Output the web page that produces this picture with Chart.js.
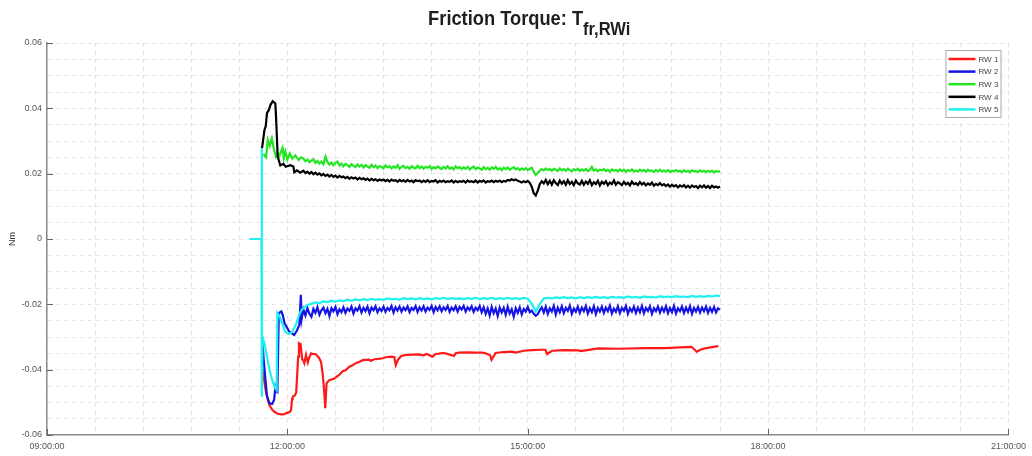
<!DOCTYPE html>
<html>
<head>
<meta charset="utf-8">
<script src="https://cdn.jsdelivr.net/npm/chart.js@4.4.0/dist/chart.umd.min.js"></script>
<style>
  html, body { margin: 0; padding: 0; background: #fff; }
  #wrap { position: relative; width: 1032px; height: 456px; }
  #title { position: absolute; left: 47px; width: 964px; top: 6px; text-align: center; z-index: 2;
           font-family: 'Liberation Sans', Arial, sans-serif; font-weight: bold; font-size: 21px; color: #1e1e1e; }
  #title .t { display: inline-block; transform: scaleX(0.87); }
  #title sub { font-size: 19px; vertical-align: -10px; line-height: 0; }
  canvas { position: absolute; left: 0; top: 0; }
</style>
</head>
<body>
<div id="wrap">
  <div id="title"><span class="t">Friction Torque: T<sub>fr,RWi</sub></span></div>
  <canvas id="frictionChart" width="1032" height="456"></canvas>
</div>
<script>
// axis ticks
const xMajorTicks = [9, 12, 15, 18, 21];
const xTickLabels = ['09:00:00', '12:00:00', '15:00:00', '18:00:00', '21:00:00'];
const xMinorStep = 0.6;
const yMajorTicks = [-0.06, -0.04, -0.02, 0, 0.02, 0.04, 0.06];
const yTickLabels = ['-0.06', '-0.04', '-0.02', '0', '0.02', '0.04', '0.06'];
const yMinorStep = 0.005;

const seriesNames = ['RW 1', 'RW 2', 'RW 3', 'RW 4', 'RW 5'];
const seriesColors = ['#ff1a1a', '#1414e6', '#22e622', '#000000', '#1ff0f0'];

// time in hours of day
// start-up transient, own sampling per wheel
const rw2StartTimes = [11.685, 11.715, 11.745, 11.776, 11.810, 11.835, 11.850, 11.860, 11.875, 11.893,
  11.925, 11.945, 11.965, 12.025, 12.085, 12.120, 12.150, 12.168, 12.178, 12.190];
const rw2StartVals = [-0.0310, -0.0400, -0.0480, -0.0503, -0.0505, -0.0492, -0.0455, -0.0465, -0.0468, -0.0227,
  -0.0222, -0.0235, -0.0258, -0.0284, -0.0294, -0.0280, -0.0262, -0.0171, -0.0245, -0.0228];

const rw3StartTimes = [11.700, 11.735, 11.755, 11.780, 11.806, 11.830, 11.857, 11.880, 11.900, 11.925,
  11.940, 11.955, 11.975, 12.000, 12.030, 12.060, 12.100, 12.140, 12.170];
const rw3StartVals = [0.0260, 0.0250, 0.0303, 0.0285, 0.0308, 0.0278, 0.0252, 0.0262, 0.0254, 0.0270,
  0.0279, 0.0248, 0.0268, 0.0243, 0.0262, 0.0246, 0.0256, 0.0242, 0.0250];

const rw4StartTimes = [11.684, 11.714, 11.730, 11.746, 11.770, 11.788, 11.817, 11.835, 11.850, 11.862,
  11.879, 11.912, 11.950, 11.980, 12.035, 12.075, 12.087, 12.120, 12.160];
const rw4StartVals = [0.0278, 0.0334, 0.0345, 0.0386, 0.0395, 0.0410, 0.0422, 0.0418, 0.0415, 0.0355,
  0.0252, 0.0225, 0.0230, 0.0221, 0.0226, 0.0222, 0.0204, 0.0210, 0.0203];

const rw5StartTimes = [11.527, 11.676, 11.679, 11.683, 11.690, 11.714, 11.760, 11.797, 11.840, 11.866,
  11.876, 11.905, 11.940, 11.975, 12.020, 12.060, 12.110, 12.150, 12.180];
const rw5StartVals = [0, 0, 0.0278, -0.0483, -0.0300, -0.0320, -0.0380, -0.0421, -0.0452, -0.0462,
  -0.0227, -0.0238, -0.0262, -0.0285, -0.0291, -0.0285, -0.0260, -0.0230, -0.0216];

// steady part of the noisy wheels, sampled every 1.5 min
const fineTimes = [
  12.200, 12.225, 12.250, 12.275, 12.300, 12.325, 12.350, 12.375, 12.400, 12.425,
  12.450, 12.475, 12.500, 12.525, 12.550, 12.575, 12.600, 12.625, 12.650, 12.675,
  12.700, 12.725, 12.750, 12.775, 12.800, 12.825, 12.850, 12.875, 12.900, 12.925,
  12.950, 12.975, 13.000, 13.025, 13.050, 13.075, 13.100, 13.125, 13.150, 13.175,
  13.200, 13.225, 13.250, 13.275, 13.300, 13.325, 13.350, 13.375, 13.400, 13.425,
  13.450, 13.475, 13.500, 13.525, 13.550, 13.575, 13.600, 13.625, 13.650, 13.675,
  13.700, 13.725, 13.750, 13.775, 13.800, 13.825, 13.850, 13.875, 13.900, 13.925,
  13.950, 13.975, 14.000, 14.025, 14.050, 14.075, 14.100, 14.125, 14.150, 14.175,
  14.200, 14.225, 14.250, 14.275, 14.300, 14.325, 14.350, 14.375, 14.400, 14.425,
  14.450, 14.475, 14.500, 14.525, 14.550, 14.575, 14.600, 14.625, 14.650, 14.675,
  14.700, 14.725, 14.750, 14.775, 14.800, 14.825, 14.850, 14.875, 14.900, 14.925,
  14.950, 14.975, 15.000, 15.025, 15.050, 15.075, 15.100, 15.125, 15.150, 15.175,
  15.200, 15.225, 15.250, 15.275, 15.300, 15.325, 15.350, 15.375, 15.400, 15.425,
  15.450, 15.475, 15.500, 15.525, 15.550, 15.575, 15.600, 15.625, 15.650, 15.675,
  15.700, 15.725, 15.750, 15.775, 15.800, 15.825, 15.850, 15.875, 15.900, 15.925,
  15.950, 15.975, 16.000, 16.025, 16.050, 16.075, 16.100, 16.125, 16.150, 16.175,
  16.200, 16.225, 16.250, 16.275, 16.300, 16.325, 16.350, 16.375, 16.400, 16.425,
  16.450, 16.475, 16.500, 16.525, 16.550, 16.575, 16.600, 16.625, 16.650, 16.675,
  16.700, 16.725, 16.750, 16.775, 16.800, 16.825, 16.850, 16.875, 16.900, 16.925,
  16.950, 16.975, 17.000, 17.025, 17.050, 17.075, 17.100, 17.125, 17.150, 17.175,
  17.200, 17.225, 17.250, 17.275, 17.300, 17.325, 17.350, 17.375, 17.400];

const rw2Steady = [
  -0.0216, -0.0234, -0.0211, -0.0229, -0.0238, -0.0214, -0.0226, -0.0209, -0.0232, -0.0218,
  -0.0210, -0.0227, -0.0214, -0.0236, -0.0212, -0.0221, -0.0208, -0.0230, -0.0215, -0.0224,
  -0.0209, -0.0226, -0.0213, -0.0220, -0.0207, -0.0228, -0.0212, -0.0219, -0.0206, -0.0225,
  -0.0211, -0.0221, -0.0207, -0.0227, -0.0210, -0.0218, -0.0206, -0.0224, -0.0212, -0.0220,
  -0.0207, -0.0223, -0.0211, -0.0218, -0.0205, -0.0225, -0.0209, -0.0219, -0.0207, -0.0222,
  -0.0210, -0.0218, -0.0206, -0.0224, -0.0211, -0.0217, -0.0205, -0.0223, -0.0209, -0.0219,
  -0.0206, -0.0222, -0.0210, -0.0217, -0.0205, -0.0224, -0.0208, -0.0218, -0.0206, -0.0221,
  -0.0209, -0.0217, -0.0205, -0.0223, -0.0210, -0.0218, -0.0206, -0.0222, -0.0208, -0.0216,
  -0.0205, -0.0222, -0.0209, -0.0217, -0.0206, -0.0223, -0.0210, -0.0218, -0.0205, -0.0224,
  -0.0209, -0.0229, -0.0212, -0.0234, -0.0208, -0.0227, -0.0213, -0.0236, -0.0210, -0.0225,
  -0.0211, -0.0232, -0.0207, -0.0228, -0.0215, -0.0238, -0.0212, -0.0226, -0.0209, -0.0231,
  -0.0214, -0.0222, -0.0208, -0.0224, -0.0219, -0.0229, -0.0235, -0.0230, -0.0218, -0.0209,
  -0.0225, -0.0207, -0.0229, -0.0212, -0.0222, -0.0205, -0.0231, -0.0210, -0.0224, -0.0206,
  -0.0227, -0.0211, -0.0220, -0.0204, -0.0229, -0.0213, -0.0223, -0.0207, -0.0226, -0.0210,
  -0.0221, -0.0205, -0.0228, -0.0212, -0.0224, -0.0206, -0.0230, -0.0211, -0.0222, -0.0207,
  -0.0226, -0.0210, -0.0221, -0.0204, -0.0228, -0.0213, -0.0223, -0.0206, -0.0227, -0.0211,
  -0.0220, -0.0205, -0.0229, -0.0212, -0.0222, -0.0207, -0.0226, -0.0210, -0.0224, -0.0205,
  -0.0227, -0.0211, -0.0220, -0.0206, -0.0229, -0.0212, -0.0221, -0.0207, -0.0225, -0.0210,
  -0.0222, -0.0206, -0.0227, -0.0211, -0.0224, -0.0205, -0.0228, -0.0212, -0.0221, -0.0207,
  -0.0226, -0.0210, -0.0223, -0.0206, -0.0229, -0.0211, -0.0222, -0.0208, -0.0225, -0.0210,
  -0.0221, -0.0207, -0.0226, -0.0211, -0.0223, -0.0208, -0.0225, -0.0212, -0.0216];

const rw3Steady = [
  0.0246, 0.0238, 0.0243, 0.0235, 0.0240, 0.0244, 0.0233, 0.0239, 0.0231, 0.0237,
  0.0229, 0.0252, 0.0236, 0.0228, 0.0234, 0.0226, 0.0233, 0.0237, 0.0225, 0.0231,
  0.0223, 0.0230, 0.0226, 0.0221, 0.0229, 0.0224, 0.0220, 0.0228, 0.0222, 0.0227,
  0.0219, 0.0226, 0.0222, 0.0218, 0.0227, 0.0220, 0.0225, 0.0217, 0.0223, 0.0221,
  0.0216, 0.0225, 0.0219, 0.0223, 0.0216, 0.0222, 0.0218, 0.0226, 0.0215, 0.0221,
  0.0224, 0.0217, 0.0221, 0.0215, 0.0223, 0.0219, 0.0216, 0.0224, 0.0217, 0.0222,
  0.0215, 0.0221, 0.0218, 0.0223, 0.0214, 0.0220, 0.0216, 0.0222, 0.0218, 0.0214,
  0.0221, 0.0216, 0.0223, 0.0215, 0.0219, 0.0213, 0.0222, 0.0217, 0.0220, 0.0214,
  0.0219, 0.0215, 0.0221, 0.0213, 0.0218, 0.0222, 0.0214, 0.0219, 0.0216, 0.0212,
  0.0220, 0.0214, 0.0218, 0.0212, 0.0219, 0.0215, 0.0221, 0.0213, 0.0217, 0.0211,
  0.0218, 0.0214, 0.0219, 0.0212, 0.0216, 0.0220, 0.0213, 0.0217, 0.0211, 0.0216,
  0.0212, 0.0217, 0.0211, 0.0215, 0.0218, 0.0206, 0.0196, 0.0202, 0.0209, 0.0214,
  0.0210, 0.0216, 0.0211, 0.0214, 0.0209, 0.0215, 0.0212, 0.0208, 0.0216, 0.0210,
  0.0214, 0.0209, 0.0215, 0.0211, 0.0207, 0.0214, 0.0210, 0.0215, 0.0208, 0.0213,
  0.0209, 0.0214, 0.0208, 0.0212, 0.0221, 0.0209, 0.0213, 0.0207, 0.0212, 0.0210,
  0.0214, 0.0208, 0.0212, 0.0206, 0.0213, 0.0209, 0.0211, 0.0207, 0.0213, 0.0208,
  0.0212, 0.0206, 0.0211, 0.0208, 0.0213, 0.0207, 0.0210, 0.0206, 0.0212, 0.0208,
  0.0211, 0.0206, 0.0212, 0.0208, 0.0210, 0.0205, 0.0211, 0.0207, 0.0212, 0.0206,
  0.0210, 0.0207, 0.0211, 0.0205, 0.0209, 0.0207, 0.0211, 0.0206, 0.0209, 0.0205,
  0.0210, 0.0206, 0.0209, 0.0205, 0.0210, 0.0207, 0.0208, 0.0205, 0.0210, 0.0206,
  0.0209, 0.0205, 0.0208, 0.0206, 0.0209, 0.0204, 0.0208, 0.0206, 0.0207];

const rw4Steady = [
  0.0209, 0.0202, 0.0206, 0.0200, 0.0205, 0.0198, 0.0203, 0.0197, 0.0201, 0.0195,
  0.0199, 0.0193, 0.0197, 0.0191, 0.0196, 0.0190, 0.0194, 0.0188, 0.0193, 0.0189,
  0.0191, 0.0186, 0.0190, 0.0184, 0.0189, 0.0185, 0.0188, 0.0182, 0.0187, 0.0183,
  0.0186, 0.0181, 0.0185, 0.0179, 0.0184, 0.0180, 0.0183, 0.0178, 0.0182, 0.0179,
  0.0182, 0.0177, 0.0181, 0.0176, 0.0182, 0.0178, 0.0180, 0.0175, 0.0181, 0.0177,
  0.0180, 0.0175, 0.0181, 0.0176, 0.0179, 0.0174, 0.0180, 0.0177, 0.0179, 0.0174,
  0.0179, 0.0175, 0.0180, 0.0174, 0.0178, 0.0176, 0.0180, 0.0173, 0.0178, 0.0175,
  0.0179, 0.0174, 0.0177, 0.0175, 0.0179, 0.0173, 0.0178, 0.0174, 0.0177, 0.0175,
  0.0178, 0.0173, 0.0179, 0.0175, 0.0177, 0.0174, 0.0179, 0.0173, 0.0178, 0.0175,
  0.0179, 0.0173, 0.0177, 0.0175, 0.0179, 0.0174, 0.0178, 0.0175, 0.0179, 0.0174,
  0.0178, 0.0176, 0.0181, 0.0179, 0.0183, 0.0180, 0.0182, 0.0178, 0.0176, 0.0173,
  0.0177, 0.0174, 0.0178, 0.0172, 0.0160, 0.0140, 0.0133, 0.0148, 0.0168, 0.0177,
  0.0170, 0.0181, 0.0168, 0.0178, 0.0166, 0.0180, 0.0171, 0.0165, 0.0179, 0.0169,
  0.0177, 0.0166, 0.0180, 0.0168, 0.0175, 0.0165, 0.0179, 0.0170, 0.0167, 0.0178,
  0.0166, 0.0176, 0.0169, 0.0180, 0.0165, 0.0174, 0.0168, 0.0178, 0.0164, 0.0175,
  0.0169, 0.0177, 0.0165, 0.0173, 0.0168, 0.0179, 0.0166, 0.0174, 0.0170, 0.0165,
  0.0175, 0.0167, 0.0172, 0.0164, 0.0176, 0.0168, 0.0171, 0.0165, 0.0174, 0.0167,
  0.0172, 0.0164, 0.0170, 0.0166, 0.0173, 0.0163, 0.0169, 0.0165, 0.0171, 0.0164,
  0.0168, 0.0162, 0.0167, 0.0160, 0.0166, 0.0161, 0.0165, 0.0158, 0.0164, 0.0160,
  0.0165, 0.0158, 0.0163, 0.0157, 0.0164, 0.0159, 0.0162, 0.0156, 0.0163, 0.0158,
  0.0164, 0.0157, 0.0162, 0.0156, 0.0163, 0.0158, 0.0161, 0.0157, 0.0161];

// RW 5 is quieter, sampled every 3 min
const coarseTimes = [
  12.20, 12.25, 12.30, 12.35, 12.40, 12.45, 12.50, 12.55, 12.60, 12.65,
  12.70, 12.75, 12.80, 12.85, 12.90, 12.95, 13.00, 13.05, 13.10, 13.15,
  13.20, 13.25, 13.30, 13.35, 13.40, 13.45, 13.50, 13.55, 13.60, 13.65,
  13.70, 13.75, 13.80, 13.85, 13.90, 13.95, 14.00, 14.05, 14.10, 14.15,
  14.20, 14.25, 14.30, 14.35, 14.40, 14.45, 14.50, 14.55, 14.60, 14.65,
  14.70, 14.75, 14.80, 14.85, 14.90, 14.95, 15.00, 15.05, 15.10, 15.15,
  15.20, 15.25, 15.30, 15.35, 15.40, 15.45, 15.50, 15.55, 15.60, 15.65,
  15.70, 15.75, 15.80, 15.85, 15.90, 15.95, 16.00, 16.05, 16.10, 16.15,
  16.20, 16.25, 16.30, 16.35, 16.40, 16.45, 16.50, 16.55, 16.60, 16.65,
  16.70, 16.75, 16.80, 16.85, 16.90, 16.95, 17.00, 17.05, 17.10, 17.15,
  17.20, 17.25, 17.30, 17.35, 17.40];

const rw5Steady = [
  -0.0212, -0.0202, -0.0198, -0.0194, -0.0196, -0.0191, -0.0193, -0.0189, -0.0192, -0.0188,
  -0.0190, -0.0186, -0.0189, -0.0185, -0.0188, -0.0184, -0.0187, -0.0183, -0.0186, -0.0184,
  -0.0186, -0.0182, -0.0185, -0.0183, -0.0186, -0.0181, -0.0184, -0.0182, -0.0185, -0.0181,
  -0.0184, -0.0182, -0.0185, -0.0181, -0.0183, -0.0180, -0.0184, -0.0181, -0.0183, -0.0182,
  -0.0184, -0.0181, -0.0183, -0.0180, -0.0184, -0.0181, -0.0183, -0.0180, -0.0184, -0.0181,
  -0.0183, -0.0180, -0.0183, -0.0181, -0.0184, -0.0180, -0.0183, -0.0198, -0.0222, -0.0199,
  -0.0182, -0.0180, -0.0182, -0.0179, -0.0181, -0.0178, -0.0181, -0.0179, -0.0182, -0.0178,
  -0.0181, -0.0178, -0.0180, -0.0177, -0.0180, -0.0178, -0.0181, -0.0177, -0.0179, -0.0178,
  -0.0180, -0.0176, -0.0179, -0.0177, -0.0180, -0.0176, -0.0178, -0.0177, -0.0179, -0.0175,
  -0.0178, -0.0176, -0.0178, -0.0175, -0.0177, -0.0176, -0.0178, -0.0174, -0.0177, -0.0175,
  -0.0177, -0.0174, -0.0176, -0.0173, -0.0175];

// RW 1 is smooth, own sampling over the whole run
const rw1Times = [11.690, 11.735, 11.776, 11.810, 11.838, 11.880, 11.922, 11.960, 11.988, 12.030,
  12.046, 12.058, 12.066, 12.094, 12.110, 12.121, 12.135, 12.145, 12.165, 12.185,
  12.200, 12.212, 12.233, 12.255, 12.270, 12.295, 12.320, 12.350, 12.390, 12.420,
  12.440, 12.458, 12.473, 12.489, 12.523, 12.580, 12.647, 12.690, 12.730, 12.772,
  12.810, 12.855, 12.900, 12.940, 12.980, 13.020, 13.041, 13.083, 13.140, 13.187,
  13.230, 13.300, 13.335, 13.353, 13.380, 13.420, 13.478, 13.560, 13.643, 13.700,
  13.740, 13.809, 13.850, 13.892, 13.940, 13.976, 14.040, 14.079, 14.100, 14.141,
  14.250, 14.349, 14.430, 14.474, 14.530, 14.548, 14.598, 14.700, 14.805, 14.847,
  14.950, 15.054, 15.150, 15.221, 15.241, 15.303, 15.450, 15.635, 15.660, 15.884,
  16.133, 16.465, 16.714, 16.900, 17.045, 17.108, 17.160, 17.212, 17.300, 17.378];
const rw1Vals = [-0.0400, -0.0472, -0.0508, -0.0522, -0.0529, -0.0535, -0.0537, -0.0536, -0.0533, -0.0530,
  -0.0524, -0.0490, -0.0483, -0.0478, -0.0470, -0.0421, -0.0360, -0.0319, -0.0322, -0.0368,
  -0.0372, -0.0380, -0.0355, -0.0378, -0.0365, -0.0350, -0.0352, -0.0352, -0.0362, -0.0376,
  -0.0411, -0.0462, -0.0518, -0.0442, -0.0432, -0.0428, -0.0416, -0.0405, -0.0401, -0.0391,
  -0.0387, -0.0380, -0.0376, -0.0371, -0.0370, -0.0369, -0.0373, -0.0368, -0.0367, -0.0365,
  -0.0362, -0.0360, -0.0362, -0.0386, -0.0370, -0.0358, -0.0355, -0.0354, -0.0353, -0.0356,
  -0.0352, -0.0360, -0.0352, -0.0351, -0.0349, -0.0350, -0.0355, -0.0358, -0.0350, -0.0348,
  -0.0347, -0.0348, -0.0348, -0.0350, -0.0356, -0.0370, -0.0349, -0.0346, -0.0345, -0.0348,
  -0.0342, -0.0340, -0.0339, -0.0339, -0.0352, -0.0342, -0.0340, -0.0341, -0.0343, -0.0335,
  -0.0336, -0.0334, -0.0334, -0.0332, -0.0330, -0.0345, -0.0338, -0.0335, -0.0331, -0.0328];

function toPoints(times, vals) {
  return times.map((t, i) => ({ x: t, y: vals[i] }));
}

const seriesData = [
  toPoints(rw1Times, rw1Vals),
  toPoints(rw2StartTimes, rw2StartVals).concat(toPoints(fineTimes, rw2Steady)),
  toPoints(rw3StartTimes, rw3StartVals).concat(toPoints(fineTimes, rw3Steady)),
  toPoints(rw4StartTimes, rw4StartVals).concat(toPoints(fineTimes, rw4Steady)),
  toPoints(rw5StartTimes, rw5StartVals).concat(toPoints(coarseTimes, rw5Steady))
];

function gridTicks(min, max, step) {
  const out = [];
  const n = Math.round((max - min) / step);
  for (let k = 0; k <= n; k++) out.push({ value: +(min + k * step).toFixed(4) });
  return out;
}

function majorLabel(v, majors, labels) {
  const i = majors.findIndex(m => Math.abs(m - v) < 1e-6);
  return i < 0 ? '' : labels[i];
}

// legend box in the upper right corner
const legendBox = {
  id: 'legendBox',
  afterDatasetsDraw(chart) {
    const { ctx, chartArea } = chart;
    const sets = chart.data.datasets;
    const x = chartArea.right - 63, y = chartArea.top + 7, w = 55, rowH = 12.6;
    const h = sets.length * rowH + 4;
    ctx.save();
    ctx.fillStyle = '#fff';
    ctx.fillRect(x, y, w, h);
    ctx.strokeStyle = '#a8a8a8';
    ctx.lineWidth = 1;
    ctx.strokeRect(x + 0.5, y + 0.5, w, h);
    ctx.font = '8px "Liberation Sans", Arial, sans-serif';
    ctx.textBaseline = 'middle';
    sets.forEach((ds, i) => {
      const cy = y + 9 + i * rowH;
      ctx.strokeStyle = ds.borderColor;
      ctx.lineWidth = 2.5;
      ctx.beginPath();
      ctx.moveTo(x + 3, cy);
      ctx.lineTo(x + 30, cy);
      ctx.stroke();
      ctx.fillStyle = '#444';
      ctx.fillText(ds.label, x + 33, cy + 0.5);
    });
    ctx.restore();
  }
};

// small tick marks pointing into the plot at the major ticks
const innerTicks = {
  id: 'innerTicks',
  afterDraw(chart) {
    const { ctx, chartArea, scales } = chart;
    ctx.save();
    ctx.strokeStyle = '#666';
    ctx.lineWidth = 1;
    ctx.beginPath();
    yMajorTicks.forEach(v => {
      const py = Math.round(scales.y.getPixelForValue(v)) + 0.5;
      ctx.moveTo(chartArea.left, py);
      ctx.lineTo(chartArea.left + 6, py);
    });
    xMajorTicks.forEach(v => {
      const px = Math.round(scales.x.getPixelForValue(v)) + 0.5;
      ctx.moveTo(px, chartArea.bottom);
      ctx.lineTo(px, chartArea.bottom - 6);
    });
    ctx.stroke();
    ctx.restore();
  }
};

const tickFont = { family: '"Liberation Sans", Arial, sans-serif', size: 9 };

const ctx = document.getElementById('frictionChart').getContext('2d');

const chart = new Chart(ctx, {
  type: 'line',
  data: {
    datasets: seriesNames.map((name, i) => ({
      label: name,
      data: seriesData[i],
      borderColor: seriesColors[i],
      backgroundColor: seriesColors[i],
      borderWidth: 2.2,
      pointRadius: 0,
      tension: 0,
      fill: false,
      order: 5 - i
    }))
  },
  options: {
    responsive: false,
    animation: false,
    devicePixelRatio: 1,
    layout: { padding: { top: 43, right: 21, left: 0, bottom: 0 } },
    plugins: {
      legend: { display: false },
      title: { display: false },
      tooltip: { enabled: false }
    },
    scales: {
      x: {
        type: 'linear',
        min: 9,
        max: 21,
        afterBuildTicks: axis => { axis.ticks = gridTicks(9, 21, xMinorStep); },
        afterFit: axis => { axis.height = 21; },
        ticks: {
          autoSkip: false,
          maxRotation: 0,
          padding: 6,
          color: '#555',
          font: tickFont,
          callback: v => majorLabel(v, xMajorTicks, xTickLabels)
        },
        grid: { color: '#e4e4e4', lineWidth: 1, drawTicks: false },
        border: { display: true, color: '#8c8c8c', width: 1.5, dash: [4, 4] }
      },
      y: {
        type: 'linear',
        min: -0.06,
        max: 0.06,
        afterBuildTicks: axis => { axis.ticks = gridTicks(-0.06, 0.06, yMinorStep); },
        afterFit: axis => { axis.width = 47; },
        ticks: {
          autoSkip: false,
          padding: 5,
          color: '#555',
          font: tickFont,
          callback: v => majorLabel(v, yMajorTicks, yTickLabels)
        },
        grid: { color: '#e4e4e4', lineWidth: 1, drawTicks: false },
        border: { display: true, color: '#8c8c8c', width: 1.5, dash: [4, 4] },
        title: {
          display: true,
          text: 'Nm',
          color: '#333',
          font: tickFont,
          padding: { top: 7, bottom: 0 }
        }
      }
    }
  },
  plugins: [legendBox, innerTicks]
});
</script>
</body>
</html>
